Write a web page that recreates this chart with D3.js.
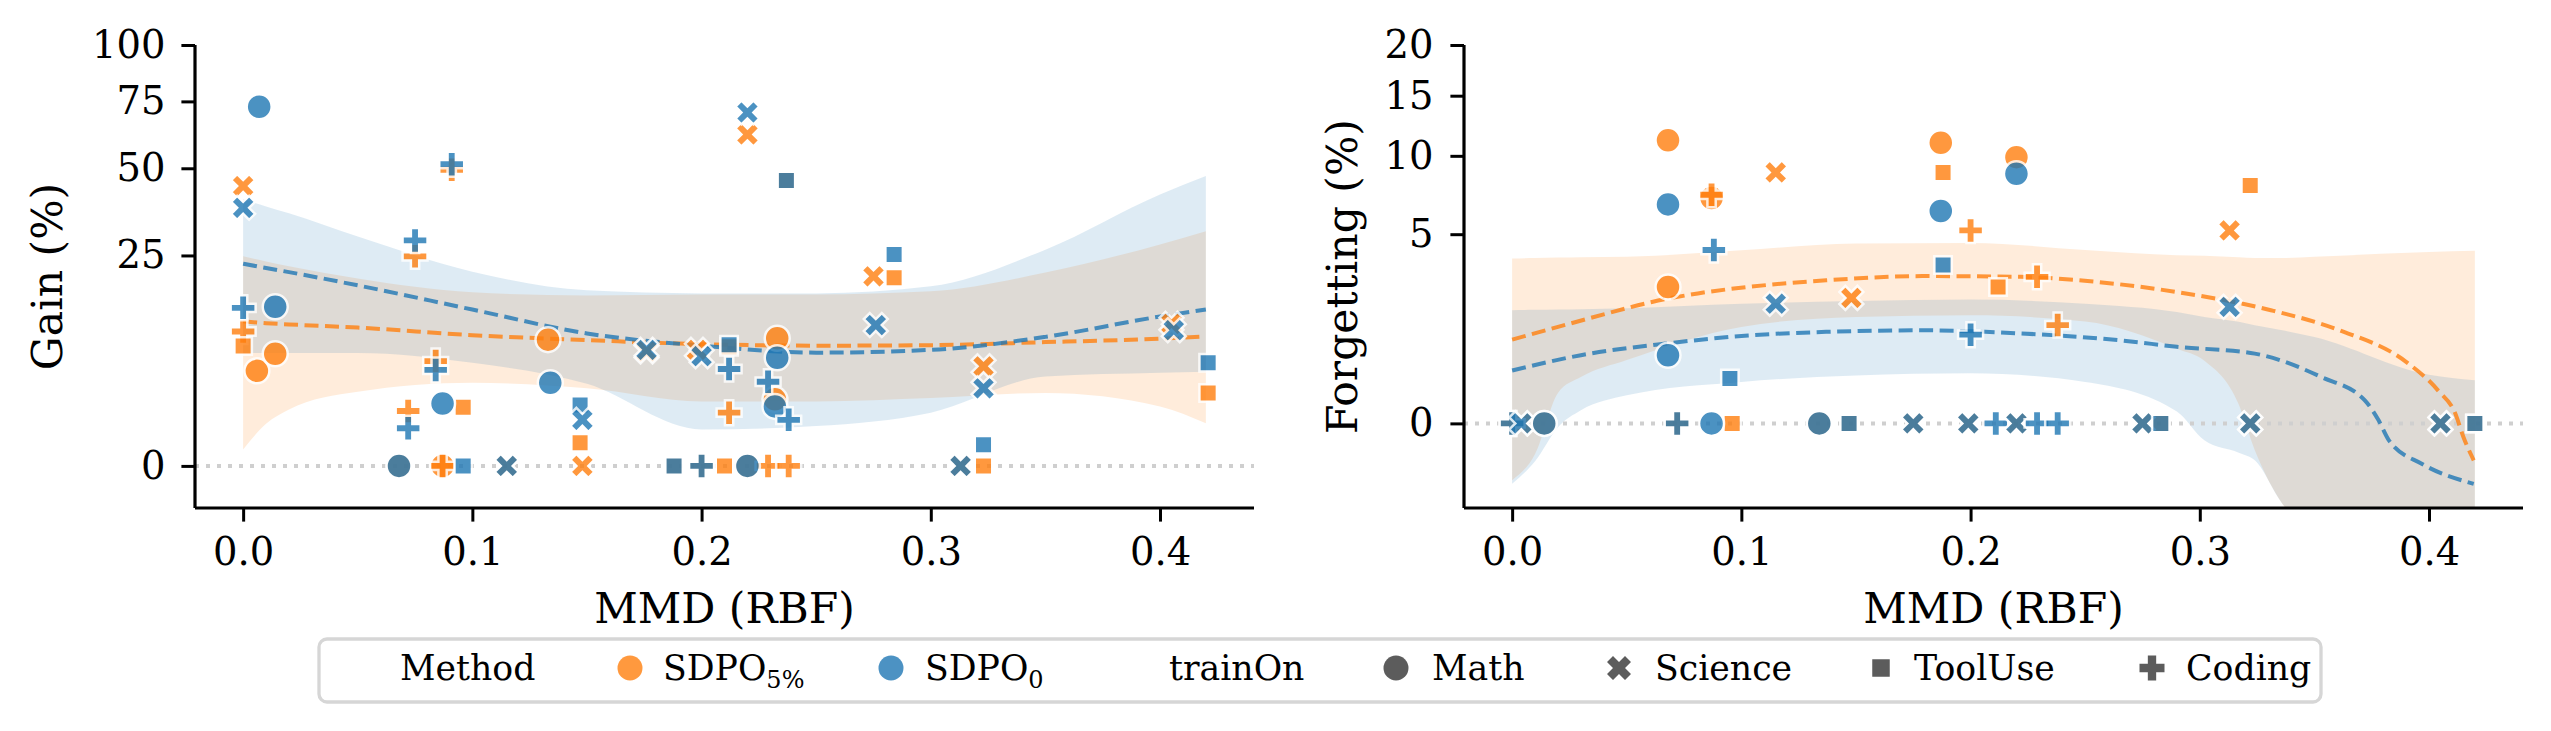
<!DOCTYPE html>
<html>
<head>
<meta charset="utf-8">
<script src="https://cdn.jsdelivr.net/npm/d3@7"></script>
</head>
<body style="margin:0">
<svg id="chart" width="2551" height="731" font-family="DejaVu Serif"></svg>
<script>
// ---- data ----
const methods = ["SDPO5%", "SDPO0"];
const trainOn = ["Math", "Science", "ToolUse", "Coding"];
const xTicks = [0, 0.1, 0.2, 0.3, 0.4];
const gainTicks = [0, 25, 50, 75, 100];
const forgetTicks = [0, 5, 10, 15, 20];

// [MMD, trainOn, gain %]
const gain5 = [
  [0.000, "Science", 44.2], [0.000, "Coding", 10.2], [0.000, "ToolUse", 8.1],
  [0.006, "Math", 5.1], [0.014, "Math", 7.1], [0.068, "Math", 0],
  [0.072, "Coding", 1.7], [0.075, "Coding", 24.8], [0.084, "Coding", 6.2],
  [0.087, "Math", 0], [0.087, "Coding", 0], [0.091, "Coding", 49.5],
  [0.096, "ToolUse", 1.95], [0.115, "Science", 0], [0.133, "Math", 9.0],
  [0.147, "ToolUse", 0.3], [0.148, "Science", 0], [0.176, "Science", 7.4],
  [0.188, "ToolUse", 0], [0.198, "Science", 7.6], [0.200, "Coding", 0],
  [0.210, "ToolUse", 0], [0.212, "Coding", 1.6], [0.212, "ToolUse", 8.0],
  [0.220, "Science", 62], [0.220, "Math", 0], [0.229, "Coding", 0],
  [0.232, "Math", 2.5], [0.233, "Math", 9.2], [0.237, "ToolUse", 46],
  [0.238, "Coding", 0], [0.275, "Science", 20.3], [0.284, "ToolUse", 20],
  [0.313, "Science", 0], [0.323, "Science", 5.6], [0.323, "ToolUse", 0],
  [0.405, "Science", 11.4], [0.421, "ToolUse", 3.0]
];
const gain0 = [
  [0.007, "Math", 72.8], [0.000, "Science", 37.6], [0.091, "Coding", 51.4],
  [0.075, "Coding", 28.7], [0.000, "Coding", 14.1], [0.014, "Math", 14.3],
  [0.084, "Coding", 5.2], [0.087, "Math", 2.2], [0.072, "Coding", 0.8],
  [0.068, "Math", 0], [0.096, "ToolUse", 0], [0.115, "Science", 0],
  [0.134, "Math", 3.9], [0.147, "ToolUse", 2.1], [0.148, "Science", 1.2],
  [0.176, "Science", 7.6], [0.188, "ToolUse", 0], [0.200, "Science", 6.8],
  [0.200, "Coding", 0], [0.212, "ToolUse", 8.3], [0.212, "Coding", 5.3],
  [0.220, "Science", 70.5], [0.220, "Math", 0], [0.229, "Coding", 4.0],
  [0.232, "Math", 2.0], [0.233, "Math", 6.6], [0.237, "ToolUse", 46],
  [0.238, "Coding", 1.2], [0.276, "Science", 11.2], [0.284, "ToolUse", 25.2],
  [0.313, "Science", 0], [0.323, "Science", 3.4], [0.323, "ToolUse", 0.25],
  [0.406, "Science", 10.4], [0.421, "ToolUse", 6.0]
];

// [MMD, trainOn, forgetting %]
const forget5 = [
  [0.000, "Coding", 0], [0.004, "Science", 0], [0.014, "Math", 0],
  [0.068, "Math", 11.2], [0.068, "Math", 2.6], [0.072, "Coding", 0],
  [0.087, "Math", 7.1], [0.087, "Coding", 7.3], [0.096, "ToolUse", 0],
  [0.115, "Science", 8.8], [0.134, "Math", 0], [0.147, "ToolUse", 0],
  [0.148, "Science", 2.2], [0.175, "Science", 0], [0.187, "Math", 11.0],
  [0.188, "ToolUse", 8.8], [0.199, "Science", 0], [0.200, "Coding", 5.2],
  [0.212, "ToolUse", 2.6], [0.220, "Math", 9.9], [0.220, "Science", 0],
  [0.229, "Coding", 3.0], [0.238, "Coding", 1.35], [0.275, "Science", 0],
  [0.283, "ToolUse", 0], [0.313, "Science", 5.2], [0.322, "ToolUse", 7.9],
  [0.322, "Science", 0], [0.405, "Science", 0], [0.420, "ToolUse", 0]
];
const forget0 = [
  [0.000, "Coding", 0], [0.004, "Science", 0], [0.014, "Math", 0],
  [0.068, "Math", 6.7], [0.068, "Math", 0.65], [0.072, "Coding", 0],
  [0.087, "Math", 0], [0.088, "Coding", 4.2], [0.095, "ToolUse", 0.28],
  [0.115, "Science", 2.0], [0.134, "Math", 0], [0.147, "ToolUse", 0],
  [0.175, "Science", 0], [0.187, "Math", 6.3], [0.188, "ToolUse", 3.5],
  [0.199, "Science", 0], [0.200, "Coding", 1.1], [0.211, "Coding", 0],
  [0.220, "Math", 8.7], [0.220, "Science", 0], [0.229, "Coding", 0],
  [0.238, "Coding", 0], [0.275, "Science", 0], [0.283, "ToolUse", 0],
  [0.313, "Science", 1.9], [0.322, "Science", 0], [0.405, "Science", 0],
  [0.420, "ToolUse", 0]
];

// fitted trend and its band, Gain panel
const gainFitX = [0, 0.01, 0.02, 0.05, 0.1, 0.15, 0.2, 0.25, 0.3, 0.35, 0.4, 0.42];
const gainFit5 = [11.8, 11.5, 11.3, 10.8, 9.65, 8.93, 8.37, 8.16, 8.23, 8.65, 9.14, 9.48];
const gainLo5  = [0.15, 1.0, 1.8, 3.1, 3.9, 3.4, 2.35, 2.35, 2.6, 3.0, 2.0, 1.03];
const gainHi5  = [24.8, 23.6, 22.5, 19.8, 17.0, 16.4, 16.6, 16.6, 17.2, 21.1, 27.7, 31.1];
const gainFit0 = [23.1, 22.1, 21.2, 18.4, 13.8, 9.9, 8.16, 7.24, 7.6, 9.4, 12.6, 13.8];
const gainLo0  = [7.2, 7.2, 7.2, 7.2, 6.0, 3.8, 0.75, 0.9, 1.6, 4.5, 4.9, 5.0];
const gainHi0  = [40.1, 38, 36, 29.7, 21.3, 17.4, 16.8, 16.8, 18.2, 26.4, 41.6, 47.4];

// fitted trend and its band, Forgetting panel
const forgetFitX5 = [0, 0.02, 0.041, 0.061, 0.081, 0.103, 0.137, 0.179, 0.222, 0.251, 0.29, 0.331, 0.361, 0.39, 0.404, 0.4115, 0.415, 0.4195];
const forgetFit5  = [0.98, 1.30, 1.68, 2.06, 2.36, 2.6, 2.86, 3.03, 3.0, 2.83, 2.41, 1.79, 1.21, 0.53, 0.15, 0.013, -0.026, -0.19];
const forgetFitX0 = [0, 0.03, 0.067, 0.103, 0.137, 0.179, 0.222, 0.266, 0.29, 0.324, 0.353, 0.372, 0.378, 0.3825, 0.397, 0.4195];
const forgetFit0  = [0.39, 0.65, 0.89, 1.08, 1.17, 1.21, 1.13, 0.96, 0.82, 0.68, 0.30, 0.074, 0.0013, -0.04, -0.23, -0.51];
const forgetBandX = [0, 0.01, 0.02, 0.03, 0.05, 0.1, 0.15, 0.2, 0.25, 0.29, 0.302, 0.317, 0.324, 0.336, 0.35, 0.4, 0.42];
const forgetLo5 = [-0.45, -0.13, 0.13, 0.30, 0.56, 1.30, 1.58, 1.63, 1.45, 0.78, 0.55, 0.05, -0.1, -0.9, -1.8, -4, -5];
const forgetHi5 = [3.80, 3.82, 3.84, 3.86, 3.88, 4.19, 4.52, 4.55, 4.2, 3.95, 3.92, 3.85, 3.82, 3.82, 3.88, 4.1, 4.16];
const forgetLo0 = [-0.51, -0.2, -0.002, 0.024, 0.11, 0.24, 0.32, 0.35, 0.24, 0.02, -0.04, -0.12, -0.19, -0.9, -1.6, -4, -5];
const forgetHi0 = [1.79, 1.8, 1.81, 1.82, 1.85, 2.0, 2.09, 2.14, 2.0, 1.73, 1.58, 1.44, 1.345, 1.21, 1.04, 0.33, 0.26];

// ---- drawing ----
const color = { "SDPO5%": "#ff7f0e", "SDPO0": "#1f77b4" };
const svg = d3.select("#chart");

// marker shapes (circle, filled X, square, filled plus)
function markerPath(kind) {
  if (kind === "Math") {
    const p = d3.path(); p.arc(0, 0, 12.5, 0, 2 * Math.PI); return p.toString();
  }
  if (kind === "ToolUse") return "M-8.75,-8.75H8.75V8.75H-8.75Z";
  let pts, u;
  if (kind === "Science") {
    u = 6;
    pts = [[-1,-2],[0,-1],[1,-2],[2,-1],[1,0],[2,1],[1,2],[0,1],[-1,2],[-2,1],[-1,0],[-2,-1]];
  } else {
    u = 25 / 6;
    pts = [[-1,-3],[1,-3],[1,-1],[3,-1],[3,1],[1,1],[1,3],[-1,3],[-1,1],[-3,1],[-3,-1],[-1,-1]];
  }
  return "M" + pts.map(p => (p[0] * u) + "," + (p[1] * u)).join("L") + "Z";
}

function zip(xs, a, b) { return xs.map((v, i) => b ? [v, a[i], b[i]] : [v, a[i]]); }

function drawPanel(cfg) {
  const x = d3.scaleLinear().domain([-0.021, 0.441]).range([cfg.left, cfg.left + 1059]);
  const y = d3.scaleSqrt().domain([-1, cfg.top]).range([508, 45]);
  const g = svg.append("g");

  const clipId = "clip" + cfg.left;
  svg.append("clipPath").attr("id", clipId)
    .append("rect").attr("x", cfg.left).attr("y", 45).attr("width", 1059).attr("height", 463);

  const plot = g.append("g").attr("clip-path", "url(#" + clipId + ")");

  const area = d3.area().x(d => x(d[0])).y0(d => y(d[1])).y1(d => y(d[2])).curve(d3.curveMonotoneX);
  const line = d3.line().x(d => x(d[0])).y(d => y(d[1])).curve(d3.curveMonotoneX);

  cfg.bands.forEach(b => {
    plot.append("path").attr("d", area(b.data))
      .attr("fill", color[b.method]).attr("fill-opacity", 0.15);
  });

  // zero reference
  plot.append("line")
    .attr("x1", cfg.left).attr("x2", cfg.left + 1059)
    .attr("y1", y(0)).attr("y2", y(0))
    .attr("stroke", "#cfcfcf").attr("stroke-width", 4)
    .attr("stroke-dasharray", "4,7");

  cfg.fits.forEach(f => {
    plot.append("path").attr("d", line(f.data))
      .attr("fill", "none").attr("stroke", color[f.method])
      .attr("stroke-opacity", 0.8).attr("stroke-width", 4)
      .attr("stroke-dasharray", "14,6.5");
  });

  cfg.points.forEach(s => {
    g.append("g").selectAll("path").data(s.data).enter().append("path")
      .attr("d", d => markerPath(d[1]))
      .attr("transform", d => "translate(" + x(d[0]) + "," + y(d[2]) + ")")
      .attr("fill", color[s.method])
      .attr("stroke", "#fff").attr("stroke-width", 2.5)
      .attr("opacity", 0.8);
  });

  // axes
  const xa = g.append("g").attr("transform", "translate(0,508)")
    .call(d3.axisBottom(x).tickValues(xTicks).tickFormat(d3.format(".1f"))
      .tickSize(13.6).tickPadding(16).tickSizeOuter(0));
  const ya = g.append("g").attr("transform", "translate(" + cfg.left + ",0)")
    .call(d3.axisLeft(y).tickValues(cfg.ticks).tickFormat(d3.format("d"))
      .tickSize(13.6).tickPadding(cfg.yPad).tickSizeOuter(0));
  [xa, ya].forEach(a => {
    a.attr("font-family", "DejaVu Serif").attr("font-size", 38.5);
    a.select(".domain").attr("stroke", "#000").attr("stroke-width", 3.2);
    a.selectAll(".tick line").attr("stroke", "#000").attr("stroke-width", 3);
    a.selectAll(".tick text").attr("fill", "#000");
  });
  // spines run full length
  xa.select(".domain").attr("d", "M" + cfg.left + ",0H" + (cfg.left + 1059));
  ya.select(".domain").attr("d", "M0,45V508");

  g.append("text").attr("x", cfg.left + 529.5).attr("y", 623)
    .attr("text-anchor", "middle").attr("font-family", "DejaVu Serif").attr("font-size", 42.5)
    .text("MMD (RBF)");
  g.append("text")
    .attr("transform", "translate(" + cfg.labelX + ",276.5) rotate(-90)")
    .attr("text-anchor", "middle").attr("font-family", "DejaVu Serif").attr("font-size", 42.5)
    .text(cfg.label);
}

drawPanel({
  left: 195, top: 100, ticks: gainTicks, yPad: 16, label: "Gain (%)", labelX: 62,
  bands: [
    { method: "SDPO5%", data: zip(gainFitX, gainLo5, gainHi5) },
    { method: "SDPO0", data: zip(gainFitX, gainLo0, gainHi0) }
  ],
  fits: [
    { method: "SDPO5%", data: zip(gainFitX, gainFit5) },
    { method: "SDPO0", data: zip(gainFitX, gainFit0) }
  ],
  points: [
    { method: "SDPO5%", data: gain5 },
    { method: "SDPO0", data: gain0 }
  ]
});

drawPanel({
  left: 1464, top: 20, ticks: forgetTicks, yPad: 17, label: "Forgetting (%)", labelX: 1357,
  bands: [
    { method: "SDPO5%", data: zip(forgetBandX, forgetLo5, forgetHi5) },
    { method: "SDPO0", data: zip(forgetBandX, forgetLo0, forgetHi0) }
  ],
  fits: [
    { method: "SDPO5%", data: zip(forgetFitX5, forgetFit5) },
    { method: "SDPO0", data: zip(forgetFitX0, forgetFit0) }
  ],
  points: [
    { method: "SDPO5%", data: forget5 },
    { method: "SDPO0", data: forget0 }
  ]
});

// ---- legend ----
const leg = svg.append("g").attr("font-family", "DejaVu Serif").attr("font-size", 34.7);
leg.append("rect").attr("x", 319).attr("y", 639).attr("width", 2002).attr("height", 63)
  .attr("rx", 8).attr("fill", "#fff").attr("stroke", "#d6d6d6").attr("stroke-width", 3.3);

const legY = 668, legBase = 680;
function legText(xp, str, sub) {
  const t = leg.append("text").attr("x", xp).attr("y", legBase).text(str);
  if (sub) t.append("tspan").attr("dy", 8).attr("font-size", 24).text(sub);
}
function legMarker(xp, kind, fill) {
  leg.append("path").attr("d", markerPath(kind))
    .attr("transform", "translate(" + xp + "," + legY + ")")
    .attr("fill", fill).attr("opacity", 0.8);
}
legText(400, "Method");
legMarker(630, "Math", color["SDPO5%"]);
legText(663, "SDPO", "5%");
legMarker(891, "Math", color["SDPO0"]);
legText(925, "SDPO", "0");
legText(1169, "trainOn");
const styleX = [1396, 1619, 1881, 2152];
const styleTextX = [1432, 1655, 1914, 2186];
trainOn.forEach((t, i) => {
  legMarker(styleX[i], t, "#333");
  legText(styleTextX[i], t);
});
</script>
</body>
</html>
